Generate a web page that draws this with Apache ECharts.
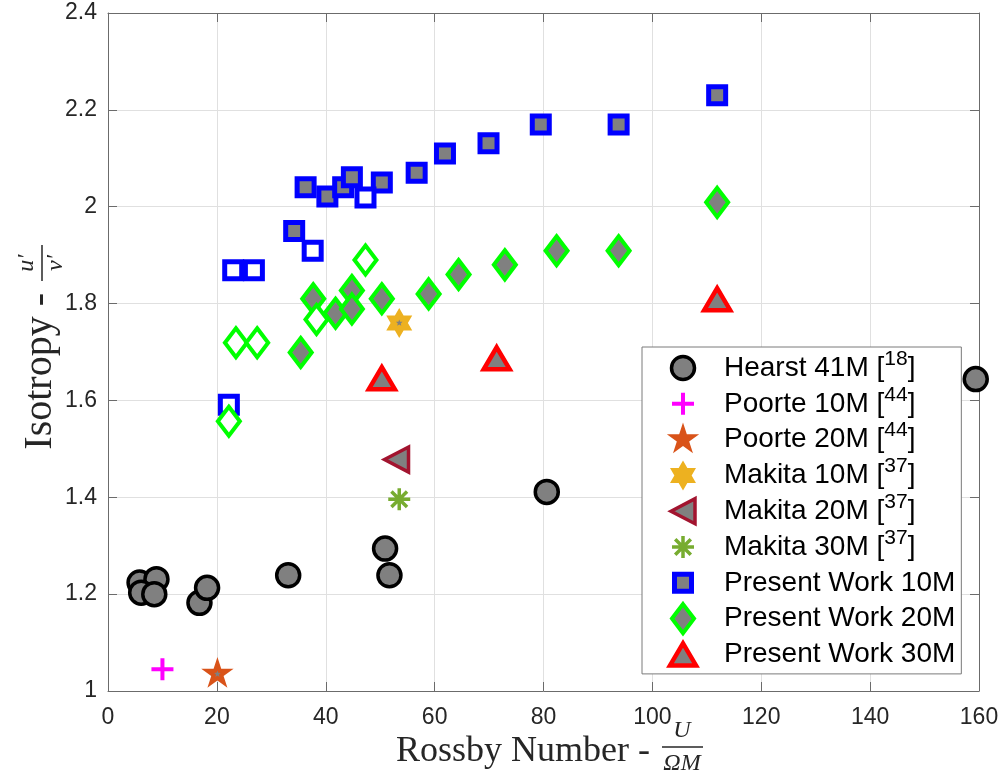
<!DOCTYPE html>
<html><head><meta charset="utf-8">
<script src="https://cdn.jsdelivr.net/npm/echarts@6/dist/echarts.min.js"></script>
<style>html,body{margin:0;padding:0;background:#fff}#c{width:1005px;height:778px}</style>
</head><body><div id="c"></div>
<script>
// ---------- data ----------
const xMin = 0, xMax = 160, xStep = 20;
const yMin = 1, yMax = 2.4, yStep = 0.2;

const hearst41 = [[5.8,1.224],[8.9,1.231],[6.1,1.203],[8.5,1.200],[16.8,1.182],[18.2,1.213],[33.1,1.239],[50.9,1.294],[51.7,1.239],[80.6,1.411],[159.4,1.644]];
const poorte10 = [[10.0,1.045]];
const poorte20 = [[20.1,1.035]];
const makita10 = [[53.5,1.760]];
const makita20 = [[53.0,1.478]];
const makita30 = [[53.5,1.396]];
const present10 = [[34.2,1.950],[36.3,2.040],[40.3,2.021],[43.2,2.040],[44.8,2.061],[50.3,2.050],[56.7,2.070],[61.9,2.110],[69.9,2.131],[79.5,2.170],[93.8,2.170],[111.9,2.230]];
const present10Open = [[22.2,1.591],[23.0,1.869],[26.8,1.869],[37.6,1.909],[47.3,2.019]];
const present20 = [[35.4,1.699],[37.7,1.810],[41.8,1.780],[44.8,1.827],[44.8,1.789],[50.3,1.810],[58.9,1.820],[64.4,1.860],[72.9,1.880],[82.4,1.909],[93.8,1.909],[111.9,2.009]];
const present20Open = [[22.2,1.557],[23.5,1.719],[27.4,1.719],[38.3,1.767],[47.3,1.890]];
const present30 = [[50.3,1.646],[71.4,1.687],[111.9,1.809]];

const names = ['Hearst 41M [18]','Poorte 10M [44]','Poorte 20M [44]','Makita 10M [37]','Makita 20M [37]','Makita 30M [37]','Present Work 10M','Present Work 20M','Present Work 30M'];

// ---------- marker shapes (pixel units, padded box) ----------
function starPts(n, R, r){
  let s = '';
  for (let k = 0; k < 2*n; k++){
    const a = -Math.PI/2 + k*Math.PI/n;
    const rr = k % 2 === 0 ? R : r;
    s += (k === 0 ? 'M' : 'L') + (rr*Math.cos(a)).toFixed(2) + ',' + (rr*Math.sin(a)).toFixed(2) + ' ';
  }
  return s + 'Z';
}
const SHAPES = {
  circle: 'M-11.5,0 A11.5,11.5 0 1,1 11.5,0 A11.5,11.5 0 1,1 -11.5,0 Z',
  plus: 'M-11,0 L11,0 M0,-11 L0,11',
  star: starPts(5, 17, 17*0.382),
  hex: starPts(6, 15, 15/Math.sqrt(3)),
  ltri: 'M-12,0 L12,-12.5 L12,12.5 Z',
  aster: 'M-11,0 L11,0 M0,-11 L0,11 M-7.8,-7.8 L7.8,7.8 M-7.8,7.8 L7.8,-7.8',
  square: 'M-8.5,-8.5 L8.5,-8.5 L8.5,8.5 L-8.5,8.5 Z',
  diamond: 'M0,-14.5 L11,0 L0,14.5 L-11,0 Z',
  tri: 'M0,-11 L13,11 L-13,11 Z',
  dot: starPts(5, 3.5, 1.5)
};
const sym = (k, h) => 'path://M-' + h + ',-' + h + ' M' + h + ',' + h + ' ' + SHAPES[k];

const GRAY = '#808080', NONE = 'rgba(0,0,0,0)';
const styles = [
  {k: 'circle', color: GRAY, borderColor: '#000000', borderWidth: 3.5},
  {k: 'plus', color: NONE, borderColor: '#FF00FF', borderWidth: 4},
  {k: 'star', color: '#D95319', borderColor: NONE, borderWidth: 0},
  {k: 'hex', color: '#EDB120', borderColor: NONE, borderWidth: 0},
  {k: 'ltri', color: GRAY, borderColor: '#A2142F', borderWidth: 3.5},
  {k: 'aster', color: NONE, borderColor: '#77AC30', borderWidth: 3.5},
  {k: 'square', color: GRAY, borderColor: '#0000FF', borderWidth: 5},
  {k: 'diamond', color: GRAY, borderColor: '#00FF00', borderWidth: 4},
  {k: 'tri', color: GRAY, borderColor: '#FF0000', borderWidth: 4.5}
];
const datasets = [hearst41, poorte10, poorte20, makita10, makita20, makita30, present10, present20, present30];

function scatter(name, data, st, extra){
  return Object.assign({
    type: 'scatter', name: name, data: data, symbol: sym(st.k, 18), symbolSize: 36,
    itemStyle: {color: st.color, borderColor: st.borderColor, borderWidth: st.borderWidth, borderJoin: 'miter', borderMiterLimit: 10, opacity: 1},
    emphasis: {disabled: true}, animation: false
  }, extra || {});
}
const series = [];
datasets.forEach((d, i) => series.push(scatter(names[i], d, styles[i])));
series.push(scatter('open10', present10Open, Object.assign({}, styles[6], {color: '#FFFFFF'})));
series.push(scatter('open20', present20Open, Object.assign({}, styles[7], {color: '#FFFFFF'})));
series.push(scatter('c20', poorte20, {k: 'dot', color: GRAY, borderColor: NONE, borderWidth: 0}, {silent: true}));
series.push(scatter('c10', makita10, {k: 'dot', color: GRAY, borderColor: NONE, borderWidth: 0}, {silent: true}));

const axisColor = '#6b6b6b';
const serif = "'Liberation Serif', 'Times New Roman', serif";
const sans = "'Liberation Sans', Arial, sans-serif";

const chart = echarts.init(document.getElementById('c'), null, {renderer: 'canvas'});
chart.setOption({
  backgroundColor: '#ffffff',
  animation: false,
  grid: {left: 108, right: 26, top: 13, bottom: 87, containLabel: false},
  xAxis: [
    {type: 'value', min: xMin, max: xMax, interval: xStep, position: 'bottom',
     axisLine: {show: true, onZero: false, lineStyle: {color: axisColor, width: 1}},
     axisTick: {show: true, inside: true, length: 9, lineStyle: {color: axisColor}},
     axisLabel: {color: '#262626', fontSize: 23, fontFamily: sans, margin: 15},
     splitLine: {show: true, lineStyle: {color: '#e0e0e0', width: 1}}},
    {type: 'value', min: xMin, max: xMax, interval: xStep, position: 'top',
     axisLine: {show: true, onZero: false, lineStyle: {color: axisColor, width: 1}},
     axisTick: {show: true, inside: true, length: 9, lineStyle: {color: axisColor}},
     axisLabel: {show: false}, splitLine: {show: false}}
  ],
  yAxis: [
    {type: 'value', min: yMin, max: yMax, interval: yStep, position: 'left',
     axisLine: {show: true, onZero: false, lineStyle: {color: axisColor, width: 1}},
     axisTick: {show: true, inside: true, length: 9, lineStyle: {color: axisColor}},
     axisLabel: {color: '#262626', fontSize: 23, fontFamily: sans, margin: 11},
     splitLine: {show: true, lineStyle: {color: '#e0e0e0', width: 1}}},
    {type: 'value', min: yMin, max: yMax, interval: yStep, position: 'right',
     axisLine: {show: true, onZero: false, lineStyle: {color: axisColor, width: 1}},
     axisTick: {show: true, inside: true, length: 9, lineStyle: {color: axisColor}},
     axisLabel: {show: false}, splitLine: {show: false}}
  ],
  legend: {
    orient: 'vertical', left: 642, top: 347, itemWidth: 34, itemHeight: 34, itemGap: -3.2,
    padding: [1.5, 6, 0, 21.5], borderColor: '#7a7a7a', borderWidth: 1, backgroundColor: '#ffffff',
    selectedMode: false,
    formatter: n => n.replace(/\[(\d+)\]/, '[{s|$1}]'),
    textStyle: {fontFamily: sans, fontSize: 28, lineHeight: 39, color: '#000000', padding: [0, 0, 0, 19],
      rich: {s: {fontFamily: sans, fontSize: 21, lineHeight: 30, verticalAlign: 'top', color: '#000000'}}},
    data: names.map((n, i) => ({name: n, icon: sym(styles[i].k, 17),
      itemStyle: {color: styles[i].color, borderColor: styles[i].borderColor, borderWidth: styles[i].borderWidth, borderJoin: 'miter'}}))
  },
  graphic: [
    {type: 'text', x: 650, y: 752, style: {text: 'Rossby Number -', font: '36px ' + serif, fill: '#262626', align: 'right', verticalAlign: 'middle'}},
    {type: 'text', x: 682, y: 731, style: {text: 'U', font: 'italic 24px ' + serif, fill: '#262626', align: 'center', verticalAlign: 'middle'}},
    {type: 'line', shape: {x1: 662, y1: 747, x2: 703, y2: 747}, style: {stroke: '#262626', lineWidth: 1.5}},
    {type: 'text', x: 682, y: 764, style: {text: 'ΩM', font: 'italic 24px ' + serif, fill: '#262626', align: 'center', verticalAlign: 'middle'}},
    {type: 'text', x: 40, y: 293, rotation: Math.PI/2, style: {text: 'Isotropy -', font: '40px ' + serif, fill: '#262626', align: 'right', verticalAlign: 'middle'}},
    {type: 'text', x: 27, y: 263, rotation: Math.PI/2, style: {text: 'u′', font: 'italic 24px ' + serif, fill: '#262626', align: 'center', verticalAlign: 'middle'}},
    {type: 'line', shape: {x1: 42, y1: 245, x2: 42, y2: 281}, style: {stroke: '#262626', lineWidth: 1.5}},
    {type: 'text', x: 56, y: 263, rotation: Math.PI/2, style: {text: 'v′', font: 'italic 24px ' + serif, fill: '#262626', align: 'center', verticalAlign: 'middle'}}
  ],
  series: series
});
</script>
</body></html>
